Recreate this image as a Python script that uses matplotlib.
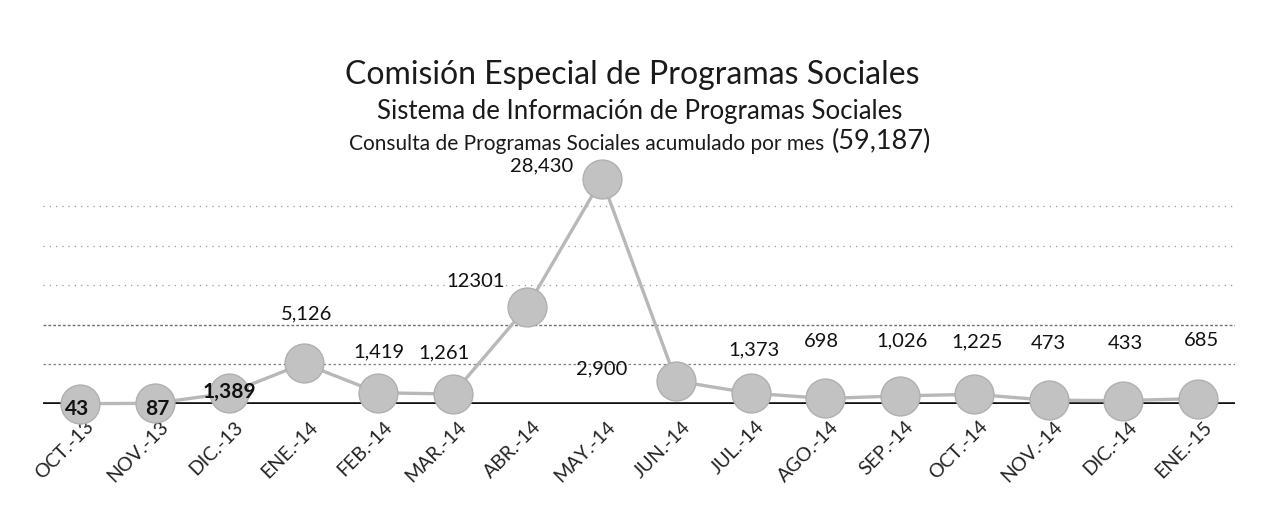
import matplotlib
matplotlib.use("Agg")
import matplotlib.pyplot as plt
from matplotlib.transforms import ScaledTranslation

months = ["OCT.-13", "NOV.-13", "DIC.-13", "ENE.-14", "FEB.-14", "MAR.-14", "ABR.-14", "MAY.-14",
          "JUN.-14", "JUL.-14", "AGO.-14", "SEP.-14", "OCT.-14", "NOV.-14", "DIC.-14", "ENE.-15"]
values = [43, 87, 1389, 5126, 1419, 1261, 12301, 28430, 2900, 1373, 698, 1026, 1225, 473, 433, 685]
value_labels = ["43", "87", "1,389", "5,126", "1,419", "1,261", "12301", "28,430", "2,900",
                "1,373", "698", "1,026", "1,225", "473", "433", "685"]
# label offsets in pixels (style only)
label_offsets = [(-3, -5), (3, -6), (0, 1), (3, 50), (1, 41), (-9, 41), (-52, 25), (-60, 13),
                 (-75, 12), (3, 43), (-4, 57), (2, 55), (3, 52), (0, 57), (2, 57), (4, 58)]
bold_labels = [True, True, True] + [False] * 13

title = "Comisión Especial de Programas Sociales"
subtitle = "Sistema de Información de Programas Sociales"
line3a = "Consulta de Programas Sociales acumulado por mes "
line3b = "(59,187)"

plt.rcParams['font.family'] = ['Lato', 'DejaVu Sans']

W, H = 1268, 508
fig = plt.figure(figsize=(W / 100, H / 100), dpi=100)
fig.patch.set_facecolor("white")

ax = fig.add_axes([43 / W, (H - 404) / H, 1192 / W, 237.3 / H])
ax.set_facecolor("none")
x = list(range(len(months)))
ax.set_xlim(-0.5, len(months) - 0.5)
ax.set_ylim(0, 30000)

for yv in [15000, 20000, 25000]:
    ax.axhline(yv, color="#9a9a9a", lw=0.9, ls=(0, (1, 4)), zorder=0)
ax.axhline(10000, color="#707070", lw=1.0, ls=(0, (2, 1.5)), zorder=0)
ax.axhline(5000, color="#808080", lw=0.9, ls=(0, (2, 2)), zorder=0)

ax.axhline(0, color="#111111", lw=2.6, zorder=1)

ax.plot(x, values, color="#b8b8b8", lw=2.4, zorder=2, clip_on=False,
        marker="o", markersize=28, markerfacecolor="#c2c2c2",
        markeredgecolor="#b0b0b0", markeredgewidth=1.0)

for xi, v, lab, (dx, dy), b in zip(x, values, value_labels, label_offsets, bold_labels):
    ax.annotate(lab, (xi, v), xytext=(dx, dy), textcoords="offset pixels",
                ha="center", va="center", fontsize=15 if b else 14.5,
                fontweight="bold" if b else "normal", color="#111111", zorder=5)

ax.set_xticks(x)
ax.set_xticklabels(months, rotation=45, ha="right", va="top", rotation_mode="anchor",
                   fontsize=14, color="#222222")
ax.tick_params(axis="x", length=0, pad=10)
shift = ScaledTranslation(5 / 100, 0, fig.dpi_scale_trans)
for lbl in ax.get_xticklabels():
    lbl.set_transform(lbl.get_transform() + shift)
ax.set_yticks([])
for s in ax.spines.values():
    s.set_visible(False)

fig.text(632 / W, 1 - 75 / H, title, ha="center", va="center", fontsize=23, color="#1a1a1a")
fig.text(640 / W, 1 - 111 / H, subtitle, ha="center", va="center", fontsize=18.5, color="#1a1a1a")
fig.text(830 / W, 1 - 144 / H, line3a, ha="right", va="center", fontsize=15, color="#1a1a1a")
fig.text(832 / W, 1 - 141 / H, line3b, ha="left", va="center", fontsize=19.5, color="#1a1a1a")

fig.savefig("out.png", dpi=100, facecolor="white")
